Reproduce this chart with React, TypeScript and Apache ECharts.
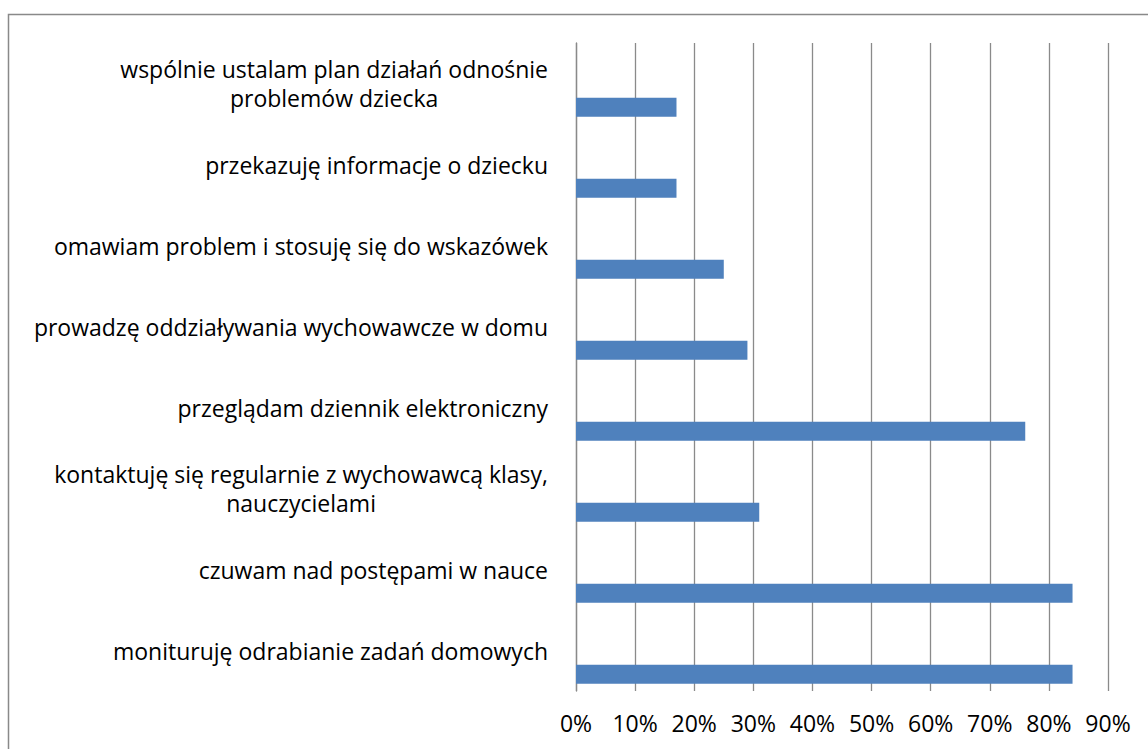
import React, { useEffect, useRef } from "react";
import * as echarts from "echarts";

const categories: string[] = [
  "monituruję odrabianie zadań domowych",
  "czuwam nad postępami w nauce",
  "kontaktuję się regularnie z wychowawcą klasy,\nnauczycielami",
  "przeglądam dziennik elektroniczny",
  "prowadzę oddziaływania wychowawcze w domu",
  "omawiam problem i stosuję się do wskazówek",
  "przekazuję informacje o dziecku",
  "wspólnie ustalam plan działań odnośnie\nproblemów dziecka",
];

const values: number[] = [84, 84, 31, 76, 29, 25, 17, 17];

const placeholder: (number | null)[] = [null, null, null, null, null, null, null, null];

const xTicksMin = 0;
const xTicksMax = 90;
const xTicksStep = 10;

const FONT = "'Open Sans'";
const FS = 23;

export default function App() {
  const ref = useRef<HTMLDivElement>(null);

  useEffect(() => {
    if (!ref.current) return;
    const chart = echarts.init(ref.current, null, { renderer: "svg" });
    chart.setOption({
      animation: false,
      backgroundColor: "#ffffff",
      textStyle: { fontFamily: FONT },
      graphic: [
        {
          type: "rect",
          shape: { x: 8.5, y: 14.5, width: 1400, height: 1000 },
          style: { fill: "none", stroke: "#898989", lineWidth: 1.5 },
          silent: true,
          z: 100,
        },
      ],
      grid: { left: 576, right: 40, top: 43, bottom: 58 },
      xAxis: {
        type: "value",
        min: xTicksMin,
        max: xTicksMax,
        interval: xTicksStep,
        axisLine: { show: false },
        axisTick: { show: false },
        splitLine: { show: true, lineStyle: { color: "#8a8a8a", width: 1.3 } },
        axisLabel: {
          formatter: "{value}%",
          color: "#000000",
          fontFamily: FONT,
          fontSize: FS,
          margin: 20,
        },
      },
      yAxis: {
        type: "category",
        data: categories,
        axisLine: { show: true, lineStyle: { color: "#8a8a8a", width: 1.3 } },
        axisTick: { show: false },
        splitLine: { show: false },
        axisLabel: {
          color: "#000000",
          fontFamily: FONT,
          fontSize: FS,
          margin: 28,
          align: "right",
          lineHeight: 29,
          formatter: (v: string) =>
            v
              .split("\n")
              .map((l) => `{c|${l}}`)
              .join("\n"),
          rich: {
            c: {
              align: "center",
              fontFamily: FONT,
              fontSize: FS,
              lineHeight: 29,
              color: "#000000",
            },
          },
        },
      },
      series: [
        {
          type: "bar",
          data: placeholder,
          barWidth: 19,
          barGap: "150%",
          itemStyle: { color: "transparent" },
          silent: true,
        },
        {
          type: "bar",
          data: values,
          barWidth: 19,
          barGap: "150%",
          itemStyle: { color: "#4F81BD" },
        },
      ],
    });
    return () => chart.dispose();
  }, []);

  return (
    <div
      ref={ref}
      style={{ position: "fixed", left: 0, top: 0, width: 1148, height: 749 }}
    />
  );
}
